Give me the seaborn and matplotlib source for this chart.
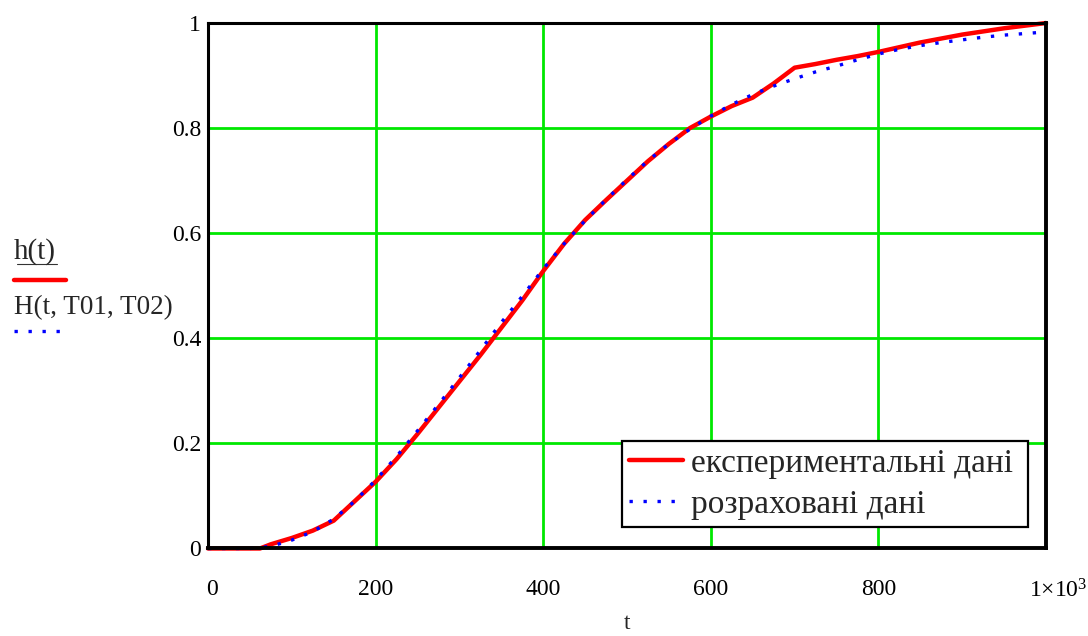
import numpy as np
import pandas as pd
import matplotlib
matplotlib.use("Agg")
import matplotlib.pyplot as plt
import matplotlib.transforms as mtransforms
import seaborn as sns
from matplotlib.lines import Line2D

# experimental step response h(t)
t_exp = [0, 25, 50, 62, 75, 100, 125, 150, 175, 200, 225, 250, 275, 300, 325, 350,
         375, 400, 425, 450, 475, 500, 525, 550, 575, 600, 625, 650, 675, 700,
         725, 750, 775, 800, 850, 900, 950, 1000]
h_exp = [0.0, 0.0, 0.0, 0.0, 0.008, 0.02, 0.034, 0.053, 0.09, 0.127, 0.17, 0.218,
         0.268, 0.318, 0.368, 0.42, 0.472, 0.528, 0.58, 0.625, 0.663, 0.70, 0.737,
         0.77, 0.80, 0.822, 0.842, 0.858, 0.885, 0.915, 0.922, 0.93, 0.937, 0.945,
         0.963, 0.978, 0.99, 1.0]

# calculated response H(t, T01, T02)
t_calc = [0, 25, 50, 75, 100, 125, 150, 175, 200, 225, 250, 275, 300, 325, 350,
          375, 400, 425, 450, 475, 500, 525, 550, 575, 600, 625, 650, 675, 700,
          725, 750, 775, 800, 825, 850, 875, 900, 925, 950, 975, 1000]
h_calc = [0.0, 0.0, 0.0, 0.004, 0.016, 0.032, 0.056, 0.09, 0.13, 0.175, 0.224,
          0.274, 0.325, 0.377, 0.43, 0.48, 0.532, 0.58, 0.624, 0.664, 0.702,
          0.738, 0.77, 0.798, 0.823, 0.845, 0.864, 0.88, 0.894, 0.907, 0.918,
          0.93, 0.941, 0.95, 0.957, 0.963, 0.968, 0.973, 0.977, 0.98, 0.983]

x_ticks = [0, 200, 400, 600, 800, 1000]
x_tick_labels = ["0", "200", "400", "600", "800", r"$1{\times}10^{3}$"]
y_ticks = [0, 0.2, 0.4, 0.6, 0.8, 1]
y_tick_labels = ["0", "0.2", "0.4", "0.6", "0.8", "1"]

label_exp = "експериментальні дані"
label_calc = "розраховані дані"

sns.set_style("white")
plt.rcParams["font.family"] = ["Liberation Serif", "DejaVu Serif"]
plt.rcParams["mathtext.fontset"] = "custom"
plt.rcParams["mathtext.rm"] = "Liberation Serif"
plt.rcParams["mathtext.it"] = "Liberation Serif"

fig = plt.figure(figsize=(10.88, 6.36), dpi=100)
ax = fig.add_axes([0.1912, 0.1376, 0.7702, 0.8262])

df_exp = pd.DataFrame({"t": t_exp, "h": h_exp})
df_calc = pd.DataFrame({"t": t_calc, "h": h_calc})

red = "#ff0000"
blue = "#0000ff"
dots = (0, (1, 3.2))

sns.lineplot(data=df_exp, x="t", y="h", ax=ax, color=red, lw=3.2,
             label=label_exp, clip_on=False, zorder=3)
sns.lineplot(data=df_calc, x="t", y="h", ax=ax, color=blue, lw=2.4,
             linestyle=dots, label=label_calc, clip_on=False, zorder=4)

ax.set_xlim(0, 1000)
ax.set_ylim(0, 1)
ax.set_xticks(x_ticks)
ax.set_xticklabels(x_tick_labels)
ax.set_yticks(y_ticks)
ax.set_yticklabels(y_tick_labels)
ax.tick_params(axis="both", length=0, labelsize=17, colors="black")
ax.tick_params(axis="x", pad=22)
ax.tick_params(axis="y", pad=5)

# the outer x labels sit a little right of their ticks
for lbl, dx in ((ax.get_xticklabels()[-1], 12), (ax.get_xticklabels()[0], 4)):
    lbl.set_transform(lbl.get_transform() +
                      mtransforms.ScaledTranslation(dx / 100, 0, fig.dpi_scale_trans))

ax.grid(True, color="#00e800", lw=2.0)
ax.set_axisbelow(True)
for side, sp in ax.spines.items():
    sp.set_color("black")
    sp.set_linewidth(2.2)
    sp.set_zorder(5)
ax.spines["bottom"].set_linewidth(2.8)
ax.spines["right"].set_linewidth(2.8)

ax.set_xlabel("t", fontsize=17, labelpad=8)
ax.set_ylabel("")

leg = ax.legend(loc="upper left",
                bbox_to_anchor=(0.494, 0.0, (1028 - 622) / 838, 0.2046),
                mode="expand", fontsize=24,
                frameon=True, fancybox=False, framealpha=1, edgecolor="black",
                handlelength=1.6, handletextpad=0.24, borderpad=0.22,
                labelspacing=0.32, borderaxespad=0)
leg.get_frame().set_linewidth(1.6)
leg.set_zorder(6)

# trace names at the left, with their line samples
fig.text(14 / 1088, 1 - 252 / 636, "h(t)", fontsize=21, va="center", ha="left")
fig.add_artist(Line2D([17 / 1088, 57 / 1088], [1 - 264 / 636] * 2, color="#333333",
                      lw=0.8, transform=fig.transFigure))
fig.add_artist(Line2D([14 / 1088, 66 / 1088], [1 - 280 / 636] * 2, color=red,
                      lw=3.2, transform=fig.transFigure))
fig.text(14 / 1088, 1 - 308 / 636, "H(t, T01, T02)", fontsize=19.5, va="center",
         ha="left")
fig.add_artist(Line2D([14 / 1088, 66 / 1088], [1 - 331 / 636] * 2, color=blue,
                      lw=2.4, linestyle=dots, transform=fig.transFigure))

fig.savefig("out.png", dpi=100)
